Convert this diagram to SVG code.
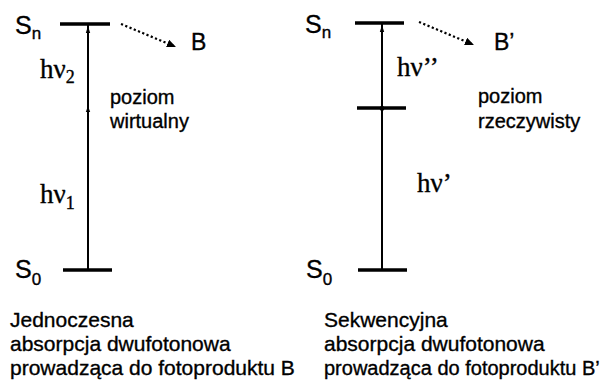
<svg xmlns="http://www.w3.org/2000/svg" width="607" height="382" viewBox="0 0 607 382">
  <style>
    .lvl { stroke: #000; stroke-width: 3.4; fill: none; }
    .ax { stroke: #000; stroke-width: 2; fill: none; }
    .dot { stroke: #000; stroke-width: 2.2; stroke-dasharray: 2.2 2.4; fill: none; }
    text { fill: #000; stroke: #000; stroke-width: 0.35; }
    .st { font-family: "Liberation Sans", Arial, sans-serif; font-size: 25px; }
    .sub { font-size: 17px; }
    .lbl { font-family: "Liberation Sans", Arial, sans-serif; font-size: 20px; }
    .cap { font-family: "Liberation Sans", Arial, sans-serif; font-size: 21px; }
    .capn { font-size: 20px; }
    .hv { font-family: "Liberation Serif", "Times New Roman", serif; font-size: 27px; }
    .hvs { font-size: 18px; }
    .prod { font-family: "Liberation Sans", Arial, sans-serif; font-size: 23px; }
  </style>
  <defs>
    <marker id="dothead" markerWidth="9" markerHeight="8" refX="8" refY="4" orient="auto" markerUnits="userSpaceOnUse" viewBox="0 0 9 8">
      <path d="M0,0 L9,4 L0,8 Z" fill="#000"/>
    </marker>
  </defs>

  <!-- simultaneous absorption -->
  <g id="left-levels">
    <line class="lvl" x1="60" y1="24" x2="110" y2="24"/>
    <line class="lvl" x1="63" y1="270" x2="112" y2="270"/>
  </g>
  <g id="left-labels">
    <text class="st" x="15" y="34">S<tspan class="sub" dy="5">n</tspan></text>
    <text class="st" x="15" y="278">S<tspan class="sub" dy="7">0</tspan></text>
    <text class="hv" x="40" y="78">hν<tspan class="hvs" dy="5">2</tspan></text>
    <text class="hv" x="40" y="203">hν<tspan class="hvs" dy="6">1</tspan></text>
    <text class="prod" x="191" y="50">B</text>
    <text class="lbl" x="110" y="104">poziom</text>
    <text class="lbl" x="110" y="128">wirtualny</text>
  </g>
  <g id="left-caption">
    <text class="cap" x="10" y="327">Jednoczesna</text>
    <text class="cap" x="10" y="351">absorpcja dwufotonowa</text>
    <text class="cap" x="10" y="375">prowadząca do fotoproduktu B</text>
  </g>

  <!-- sequential absorption -->
  <g id="right-levels">
    <line class="lvl" x1="355" y1="23" x2="404" y2="23"/>
    <line class="lvl" x1="357" y1="108" x2="406" y2="108"/>
    <line class="lvl" x1="358" y1="270" x2="407" y2="270"/>
  </g>
  <g id="right-labels">
    <text class="st" x="305" y="33">S<tspan class="sub" dy="5">n</tspan></text>
    <text class="st" x="306" y="278">S<tspan class="sub" dy="7">0</tspan></text>
    <text class="hv" x="397" y="76">hν’’</text>
    <text class="hv" x="417" y="192">hν’</text>
    <text class="prod" x="494" y="50">B’</text>
    <text class="lbl" x="478" y="103">poziom</text>
    <text class="lbl" x="478" y="128">rzeczywisty</text>
  </g>
  <g id="right-caption">
    <text class="cap" x="324" y="327">Sekwencyjna</text>
    <text class="cap" x="324" y="351">absorpcja dwufotonowa</text>
    <text class="cap capn" x="324" y="375">prowadząca do fotoproduktu B’</text>
  </g>

  <g id="connectors">
    <!-- excitation axes -->
    <line class="ax" x1="88" y1="270" x2="88" y2="25"/>
    <line class="ax" x1="382" y1="270" x2="382" y2="24"/>
    <!-- small arrowheads along the axes -->
    <path d="M88,26 L85.8,33 L90.2,33 Z" fill="#000"/>
    <path d="M88,106 L85.8,112 L90.2,112 Z" fill="#000"/>
    <path d="M382,25 L379.8,32 L384.2,32 Z" fill="#000"/>
    <circle cx="382" cy="108.5" r="2.4" fill="#000"/>
    <!-- decay to photoproducts -->
    <line class="dot" x1="121" y1="24" x2="175" y2="46.5" marker-end="url(#dothead)"/>
    <line class="dot" x1="419" y1="22" x2="473" y2="44.5" marker-end="url(#dothead)"/>
  </g>
</svg>
